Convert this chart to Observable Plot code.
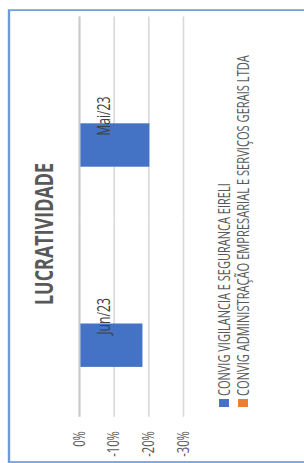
<!DOCTYPE html>
<html><head><meta charset="utf-8">
<script src="https://cdn.jsdelivr.net/npm/d3@7"></script>
<script src="https://cdn.jsdelivr.net/npm/@observablehq/plot@0.6"></script>
<style>
html,body{margin:0;padding:0;background:#fff;overflow:hidden;width:304px;height:463px}
#rot{position:absolute;left:0;top:463px;transform-origin:0 0;}
#rot > svg{position:absolute;left:0;top:0;}
</style></head>
<body><div id="rot"></div>
<script>
const chartTitle = "LUCRATIVIDADE";
const categories = ["Jun/23", "Mai/23"];
const seriesNames = ["CONVIG VIGILANCIA E SEGURANCA EIRELI", "CONVIG ADMINISTRAÇÃO EMPRESARIAL E SERVIÇOS GERAIS LTDA"];
const vigilanciaValues = [-0.183, -0.203];
const administracaoValues = [0, 0];
const yTicks = [0, -0.1, -0.2, -0.3];
const seriesColors = ["#4472C4", "#ED7D31"];

const rows = [];
categories.forEach((c, i) => {
  rows.push({cat: c, series: seriesNames[0], value: vigilanciaValues[i]});
  rows.push({cat: c, series: seriesNames[1], value: administracaoValues[i]});
});

const S = 0.7;          // horizontal squeeze of the original chart
const W = 463 / S;      // natural width
const H = 304;
const font = "'Open Sans', Lato, sans-serif";

const rot = document.getElementById("rot");
rot.style.width = W + "px";
rot.style.height = H + "px";
rot.style.transform = `rotate(-90deg) scaleX(${S})`;

const plot = Plot.plot({
  width: W, height: H,
  marginTop: 79, marginBottom: H - 183,
  marginLeft: 46 / S, marginRight: W - 447 / S,
  fx: {domain: categories, padding: 0, axis: null},
  x: {domain: seriesNames, paddingInner: 0, paddingOuter: 1.277, align: 0.438, axis: null},
  y: {domain: [-0.3, 0], label: null, axis: null},
  color: {domain: seriesNames, range: seriesColors},
  style: {fontFamily: font, fontSize: "16px", color: "#595959", background: "transparent"},
  marks: [
    Plot.ruleY(yTicks, {stroke: "#d9d9d9", strokeWidth: 1.6}),
    Plot.barY(rows, {fx: "cat", x: "series", y: "value", fill: "series"}),
    Plot.ruleY([0], {stroke: "#cccccc", strokeWidth: 2}),
    Plot.text(categories, {fx: d => d, y: 0, text: d => d, dy: 25, fill: "#404040", fontSize: 17.5}),
    Plot.axisY({ticks: yTicks, tickFormat: d => Math.round(d * 100) + "%", tickSize: 0, tickPadding: 21, label: null, fill: "#595959", fontSize: 16})
  ]
});
rot.appendChild(plot);

const ov = d3.create("svg").attr("width", W).attr("height", H)
  .attr("viewBox", `0 0 ${W} ${H}`)
  .style("font-family", font);
ov.append("rect").attr("x", 1.4).attr("y", 9).attr("width", 647 - 1.4).attr("height", 400)
  .attr("fill", "none").attr("stroke", "#6e9ad6").attr("stroke-width", 2.4);
ov.append("text").attr("x", 225.7).attr("y", 53).text(chartTitle)
  .attr("font-size", 25).attr("font-weight", "bold").attr("fill", "#595959")
  .attr("textLength", 203).attr("lengthAdjust", "spacingAndGlyphs");
const legendY = [219, 238];
const legendLen = [304, 487];
seriesNames.forEach((name, i) => {
  ov.append("rect").attr("x", 80).attr("y", legendY[i]).attr("width", 11.4).attr("height", 10)
    .attr("fill", seriesColors[i]);
  ov.append("text").attr("x", 95.7).attr("y", legendY[i] + 11).text(name)
    .attr("font-size", 16.5).attr("fill", "#595959")
    .attr("textLength", legendLen[i]).attr("lengthAdjust", "spacingAndGlyphs");
});
rot.appendChild(ov.node());
</script>
</body></html>
